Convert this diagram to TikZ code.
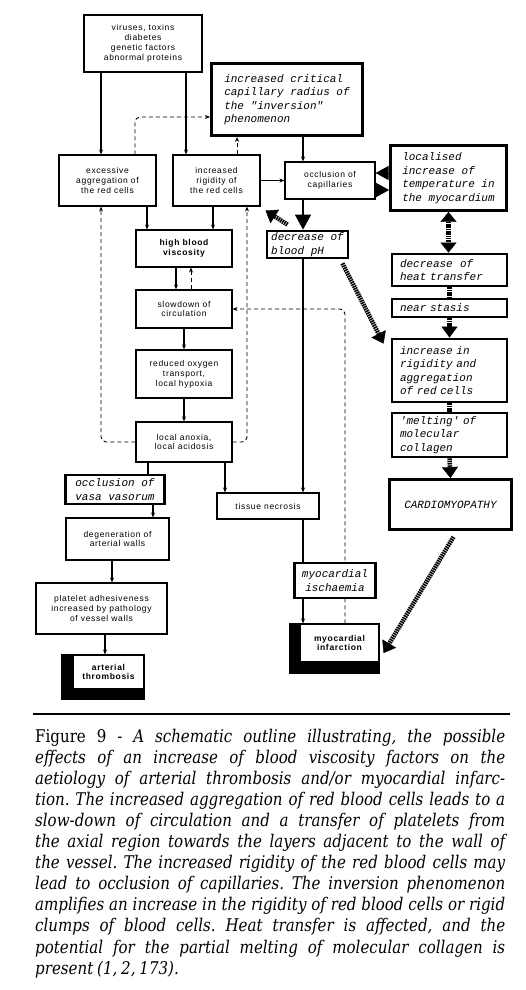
\documentclass[tikz,border=0pt]{standalone}
\usepackage{fontspec}
\setmainfont{DejaVu Serif}[FakeStretch=0.86]
\newfontfamily\diagsans{Liberation Sans}[LetterSpace=8]
\newfontfamily\diagmono{Liberation Mono}
\usetikzlibrary{
	arrows.meta,
	backgrounds,
	positioning
}

\begin{document}
\begin{tikzpicture}[x=1pt, y=-1pt,
	plainbox/.style={draw, line width=1.1pt, fill=white, align=center, inner sep=2pt,
		font=\diagsans\fontsize{8.5}{9.8}\selectfont},
	boldbox/.style={plainbox, font=\diagsans\bfseries\fontsize{8.5}{9.8}\selectfont},
	heavy/.style={draw, line width=2.8pt, fill=white, align=left, inner sep=2pt,
		font=\diagmono\itshape\fontsize{11}{13.5}\selectfont},
	colbox/.style={heavy, text width=99pt, inner xsep=8pt},
	arr/.style={line width=1.2pt, -{Stealth[length=5pt,width=4pt]}},
	dasharr/.style={line width=0.9pt, dash pattern=on 4pt off 3pt, -{Stealth[length=5pt,width=4pt]}},
	link/.style={line width=1.2pt},
	fat/.style={line width=4.5pt, dash pattern=on 1.5pt off 0.8pt},
	fatarr/.style={fat, -{Triangle[length=11pt,width=16pt,line width=0.4pt]}},
	fatboth/.style={fat, {Triangle[length=10pt,width=16pt,line width=0.4pt]}-{Triangle[length=10pt,width=16pt,line width=0.4pt]}},
	bigtip/.style={line width=1pt, -{Triangle[length=13pt,width=14pt]}}
]
	\useasboundingbox (0,0) rectangle (525,990);
	
	% left and middle column
	\node[plainbox, minimum width=118pt, minimum height=57pt] (viruses) at (143,43.5)
		{viruses, toxins\\diabetes\\genetic factors\\abnormal proteins};
	\node[heavy, minimum width=151pt, minimum height=72pt] (inversion) at (287,99.5)
		{increased critical\\capillary radius of\\the "inversion"\\phenomenon};
	\node[plainbox, minimum width=97pt, minimum height=51pt] (aggregation) at (107.5,180.5)
		{excessive\\aggregation of\\the red cells};
	\node[plainbox, minimum width=87pt, minimum height=51pt] (rigidity) at (216.5,180.5)
		{increased\\rigidity of\\the red cells};
	\node[plainbox, minimum width=90pt, minimum height=37pt] (occlusion) at (330,180.5)
		{occlusion of\\capillaries};
	\node[heavy, minimum width=81pt, minimum height=27pt, inner sep=1pt] (ph) at (307.5,244.5)
		{decrease of\\blood pH};
	\node[boldbox, minimum width=96pt, minimum height=37pt] (viscosity) at (184,248.5)
		{high blood\\viscosity};
	\node[plainbox, minimum width=96pt, minimum height=38pt] (slowdown) at (184,309)
		{slowdown of\\circulation};
	\node[plainbox, minimum width=96pt, minimum height=48pt] (hypoxia) at (184,374)
		{reduced oxygen\\transport,\\local hypoxia};
	\node[plainbox, minimum width=96pt, minimum height=40pt] (anoxia) at (184,442)
		{local anoxia,\\local acidosis};
	\node[heavy, minimum width=99pt, minimum height=29pt, inner sep=1pt] (vasa) at (115,489.5)
		{occlusion of\\vasa vasorum};
	\node[plainbox, minimum width=102pt, minimum height=26pt] (necrosis) at (268,506)
		{tissue necrosis};
	\node[plainbox, minimum width=103pt, minimum height=42pt] (degeneration) at (117.5,539)
		{degeneration of\\arterial walls};
	\node[plainbox, minimum width=131pt, minimum height=51pt] (platelet) at (101.5,608.5)
		{platelet adhesiveness\\increased by pathology\\of vessel walls};
	\node[boldbox, minimum width=71pt, minimum height=34pt] (thrombosis) at (108.5,672)
		{arterial\\thrombosis};
	\node[heavy, align=center, minimum width=81pt, minimum height=35pt] (ischaemia) at (335,580.5)
		{myocardial\\ischaemia};
	\node[boldbox, minimum width=79pt, minimum height=38pt] (infarction) at (339.5,643)
		{myocardial\\infarction};
	
	% right column
	\node[heavy, minimum width=116pt, minimum height=65pt] (temperature) at (448.5,178)
		{localised\\increase of\\temperature in\\the myocardium};
	\node[colbox, minimum height=32pt] (heat) at (449.5,270) {decrease~~of\\heat transfer};
	\node[colbox, minimum height=18pt, inner ysep=1pt] (stasis) at (449.5,308) {near stasis};
	\node[colbox, minimum height=63pt] (rigagg) at (449.5,370.5)
		{increase in\\rigidity and\\aggregation\\of red cells};
	\node[colbox, minimum height=44pt] (melting) at (449.5,435)
		{'melting' of\\molecular\\collagen};
	\node[heavy, align=center, minimum width=122pt, minimum height=50pt] (cardio) at (450.5,504.5)
		{CARDIOMYOPATHY};
	
	\begin{scope}[on background layer]
		\fill ([xshift=-11pt]thrombosis.north west) rectangle ([yshift=-10pt]thrombosis.south east);
		\fill ([xshift=-10pt]infarction.north west) rectangle ([yshift=-11pt]infarction.south east);
		
		\draw[arr] ([xshift=-6.5pt]aggregation.north |- viruses.south) -- ([xshift=-6.5pt]aggregation.north);
		\draw[arr] ([xshift=-30.5pt]rigidity.north |- viruses.south) -- ([xshift=-30.5pt]rigidity.north);
		\draw[dasharr, rounded corners=5pt] ([xshift=27.5pt]aggregation.north) |- ([yshift=-17.5pt]inversion.west);
		\draw[dasharr] ([xshift=20.5pt]rigidity.north) -- ([xshift=20.5pt]rigidity.north |- inversion.south);
		\draw[arr] ([xshift=-27pt]occlusion.north |- inversion.south) -- ([xshift=-27pt]occlusion.north);
		\draw[arr] (rigidity.east) -- (occlusion.west);
		
		\draw[bigtip] ([yshift=7.5pt]temperature.west |- occlusion.east) -- ([yshift=7.5pt]occlusion.east);
		\draw[bigtip] ([yshift=-9.5pt]occlusion.east) -- ([yshift=-9.5pt]temperature.west |- occlusion.east);
		\draw[link, -{Triangle[length=15pt,width=16pt]}] ([xshift=-4.5pt]ph.north |- occlusion.south) -- ([xshift=-4.5pt]ph.north);
		\draw[fatarr] ([xshift=-20pt,yshift=5pt]ph.north) -- ([xshift=5pt,yshift=-4pt]rigidity.south east);
		
		\draw[fatboth] (temperature.south) -- (temperature.south |- heat.north);
		\draw[fat] (heat.south) -- (stasis.north);
		\draw[fatarr] (stasis.south) -- (rigagg.north);
		\draw[fat] (rigagg.south) -- (melting.north);
		\draw[fatarr] (melting.south) -- (cardio.north);
		\draw[fatarr] ([xshift=-7pt,yshift=-4pt]ph.south east) -- ([xshift=-7pt,yshift=-6pt]rigagg.north west);
		\draw[fatarr] ([xshift=3pt,yshift=-6pt]cardio.south) -- ([xshift=4pt,yshift=-10pt]infarction.east);
		
		\draw[arr] ([xshift=-4.5pt]ph.south) -- ([xshift=-4.5pt]ph.south |- necrosis.north);
		\draw[link] ([xshift=35pt]necrosis.south) -- ([xshift=35pt]necrosis.south |- ischaemia.north);
		\draw[arr] ([xshift=-36.5pt]infarction.north |- ischaemia.south) -- ([xshift=-36.5pt]infarction.north);
		\draw[dasharr, rounded corners=5pt] ([xshift=5.5pt]infarction.north) |- (slowdown.east);
		
		\draw[arr] ([xshift=-37pt]viscosity.north |- aggregation.south) -- ([xshift=-37pt]viscosity.north);
		\draw[arr] ([xshift=29pt]viscosity.north |- rigidity.south) -- ([xshift=29pt]viscosity.north);
		\draw[arr] ([xshift=-8pt]viscosity.south) -- ([xshift=-8pt]viscosity.south |- slowdown.north);
		\draw[dasharr] ([xshift=7pt]slowdown.north) -- ([xshift=7pt]slowdown.north |- viscosity.south);
		\draw[arr] (slowdown.south) -- (hypoxia.north);
		\draw[arr] (hypoxia.south) -- (anoxia.north);
		\draw[dasharr, rounded corners=5pt] (anoxia.west) -| ([xshift=-6.5pt]aggregation.south);
		\draw[dasharr, rounded corners=5pt] (anoxia.east) -| ([xshift=30.5pt]rigidity.south);
		\draw[link] ([xshift=-36pt]anoxia.south) -- ([xshift=-36pt]anoxia.south |- vasa.north);
		\draw[arr] ([xshift=41pt]anoxia.south) -- ([xshift=41pt]anoxia.south |- necrosis.north);
		\draw[arr] ([xshift=38pt]vasa.south) -- ([xshift=38pt]vasa.south |- degeneration.north);
		\draw[arr] ([xshift=-5.5pt]degeneration.south) -- ([xshift=-5.5pt]degeneration.south |- platelet.north);
		\draw[arr] ([xshift=-3.5pt]thrombosis.north |- platelet.south) -- ([xshift=-3.5pt]thrombosis.north);
	\end{scope}
	
	% caption
	\draw[line width=1.6pt] (33,714) -- (510,714);
	\node[anchor=north west, text width=470pt, inner sep=0pt, align=justify,
		font=\fontsize{17.5}{21.1}\selectfont] (caption) at (35,728.5)
		{\tolerance=10000\frenchspacing\spaceskip=.22em plus .4em minus .05em
		Figure 9 - {\itshape A schematic outline illustrating, the possible\linebreak
		effects of an increase of blood viscosity factors on the\linebreak
		aetiology of arterial thrombosis and/or myocardial infarc-\linebreak
		tion. The increased aggregation of red blood cells leads to a\linebreak
		slow-down of circulation and a transfer of platelets from\linebreak
		the axial region towards the layers adjacent to the wall of\linebreak
		the vessel. The increased rigidity of the red blood cells may\linebreak
		lead to occlusion of capillaries. The inversion phenomenon\linebreak
		amplifies an increase in the rigidity of red blood cells or rigid\linebreak
		clumps of blood cells. Heat transfer is affected, and the\linebreak
		potential for the partial melting of molecular collagen is\linebreak
		present (1, 2, 173).}};
\end{tikzpicture}
\end{document}
